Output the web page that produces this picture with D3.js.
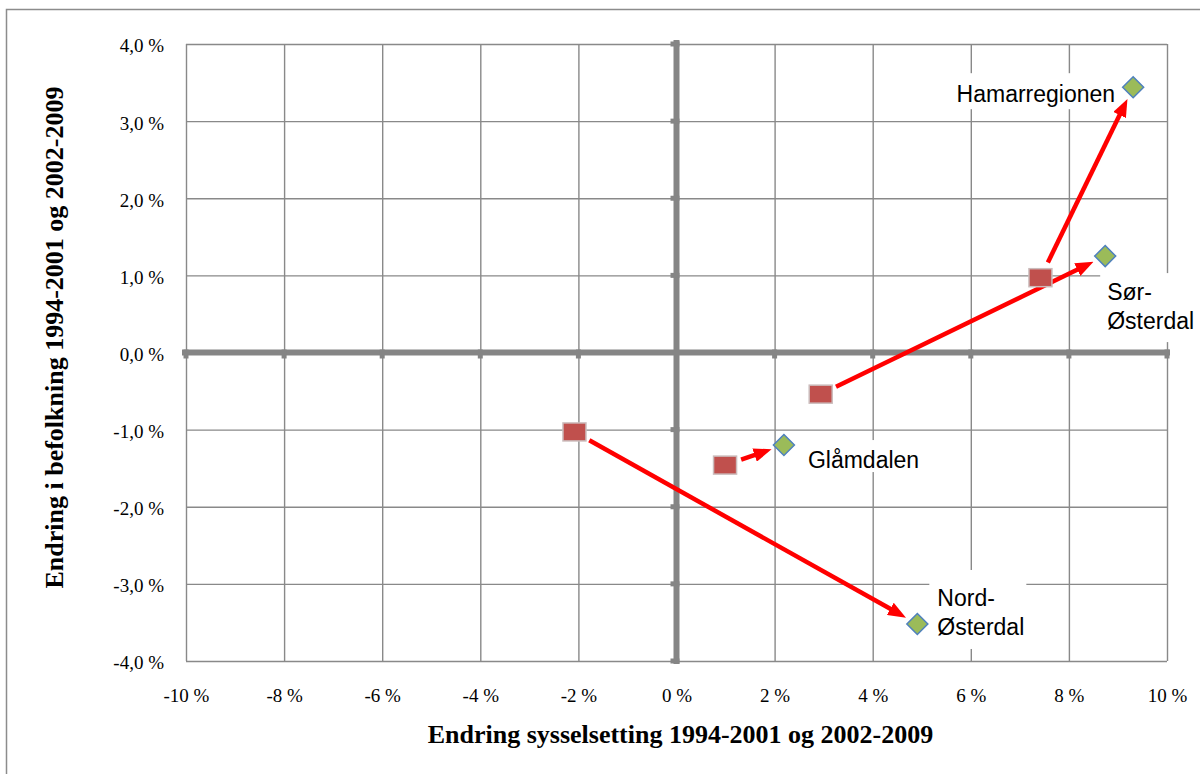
<!DOCTYPE html>
<html>
<head>
<meta charset="utf-8">
<script src="https://cdn.jsdelivr.net/npm/d3@7"></script>
<style>
  body { margin: 0; background: #fff; }
  svg { display: block; }
</style>
</head>
<body>
<div id="chart"></div>
<script>
// values (percent)
var regions = ["Hamarregionen", "Sør-Østerdal", "Glåmdalen", "Nord-Østerdal"];
var labelLines = [["Hamarregionen"], ["Sør-", "Østerdal"], ["Glåmdalen"], ["Nord-", "Østerdal"]];
var emp9401 = [7.42, 2.94, 0.99, -2.08];
var pop9401 = [0.97, -0.54, -1.46, -1.03];
var emp0209 = [9.31, 8.74, 2.19, 4.91];
var pop0209 = [3.44, 1.25, -1.20, -3.52];
var xTicks = [-10, -8, -6, -4, -2, 0, 2, 4, 6, 8, 10];
var yTicks = [-4, -3, -2, -1, 0, 1, 2, 3, 4];

// label placement relative to the 2002-2009 marker: text offset, anchor, white box
var labelPos = [
    {dx: -18, dy: 15, anchor: "end",   box: [-183, -14, 170, 36]},
    {dx: 2,   dy: 44, anchor: "start", box: [-5, 17, 80, 69]},
    {dx: 24,  dy: 23, anchor: "start", box: [16, -5, 125, 32]},
    {dx: 20,  dy: -18, anchor: "start", box: [12, -54, 97, 79]}
];

var W = 1200, H = 774;
var margin = {top: 44, right: 33, bottom: 113, left: 186};
var width = W - margin.left - margin.right;
var height = H - margin.top - margin.bottom;

var x = d3.scaleLinear().domain([-10, 10]).range([0, width]);
var y = d3.scaleLinear().domain([-4, 4]).range([height, 0]);

var fmtX = d => d + " %";
var fmtY = d => d.toFixed(1).replace(".", ",") + " %";

var root = d3.select("#chart").append("svg")
    .attr("width", W)
    .attr("height", H);

// outer chart frame (runs off the right/bottom edge)
root.append("rect")
    .attr("x", 6.5).attr("y", 9.5)
    .attr("width", 1400).attr("height", 1000)
    .attr("fill", "none")
    .attr("stroke", "#8c8c8c")
    .attr("stroke-width", 1.5);

var defs = root.append("defs");
defs.append("marker")
    .attr("id", "head")
    .attr("markerUnits", "userSpaceOnUse")
    .attr("markerWidth", 18).attr("markerHeight", 14)
    .attr("refX", 2).attr("refY", 7)
    .attr("orient", "auto")
    .append("path")
    .attr("d", "M0,0 L18,7 L0,14 Z")
    .attr("fill", "#ff0000");

var svg = root.append("g")
    .attr("transform", "translate(" + margin.left + "," + margin.top + ")");

var serif = "'Liberation Serif', 'Times New Roman', serif";
var sans = "'Liberation Sans', Arial, sans-serif";

// gridlines
svg.append("g")
    .attr("transform", "translate(0," + height + ")")
    .call(d3.axisBottom(x).tickValues(xTicks).tickSize(-height).tickFormat(""))
    .call(g => g.select(".domain").remove())
    .selectAll("line").attr("stroke", "#898989").attr("stroke-width", 1.4);

svg.append("g")
    .call(d3.axisLeft(y).tickValues(yTicks).tickSize(-width).tickFormat(""))
    .call(g => g.select(".domain").remove())
    .selectAll("line").attr("stroke", "#898989").attr("stroke-width", 1.4);

// tick labels
svg.append("g")
    .attr("transform", "translate(0," + height + ")")
    .call(d3.axisBottom(x).tickValues(xTicks).tickSize(0).tickPadding(28).tickFormat(fmtX))
    .call(g => g.select(".domain").remove())
    .selectAll("text")
    .attr("fill", "#000")
    .style("font-family", serif)
    .style("font-size", "19px");

svg.append("g")
    .call(d3.axisLeft(y).tickValues(yTicks).tickSize(0).tickPadding(22).tickFormat(fmtY))
    .call(g => g.select(".domain").remove())
    .selectAll("text")
    .attr("fill", "#000")
    .attr("dy", "0.42em")
    .style("font-family", serif)
    .style("font-size", "19px");

// white label boxes hiding gridlines
var pts = regions.map((r, i) => ({
    name: r, lines: labelLines[i], pos: labelPos[i],
    x0: emp9401[i], y0: pop9401[i], x1: emp0209[i], y1: pop0209[i]
}));

svg.selectAll(".lblbox")
    .data(pts)
    .enter().append("rect")
    .attr("class", "lblbox")
    .attr("x", d => x(d.x1) + d.pos.box[0])
    .attr("y", d => y(d.y1) + d.pos.box[1])
    .attr("width", d => d.pos.box[2])
    .attr("height", d => d.pos.box[3])
    .attr("fill", "#fff");

// thick zero axes with small ticks
var axisCol = "#858585";
svg.append("line")
    .attr("x1", -4).attr("x2", width + 3)
    .attr("y1", y(0)).attr("y2", y(0))
    .attr("stroke", axisCol).attr("stroke-width", 6);
svg.append("line")
    .attr("x1", x(0)).attr("x2", x(0))
    .attr("y1", -4).attr("y2", height + 3)
    .attr("stroke", axisCol).attr("stroke-width", 6);

svg.append("g").selectAll("rect")
    .data(xTicks)
    .enter().append("rect")
    .attr("x", d => x(d) - 2.5).attr("y", y(0) - 3)
    .attr("width", 5).attr("height", 9)
    .attr("fill", axisCol);
svg.append("g").selectAll("rect")
    .data(yTicks)
    .enter().append("rect")
    .attr("x", x(0) - 6).attr("y", d => y(d) - 2.5)
    .attr("width", 9).attr("height", 5)
    .attr("fill", axisCol);

// arrows from 1994-2001 to 2002-2009
svg.selectAll(".arrow")
    .data(pts)
    .enter().append("line")
    .attr("class", "arrow")
    .each(function(d) {
        var ax = x(d.x0), ay = y(d.y0), bx = x(d.x1), by = y(d.y1);
        var len = Math.hypot(bx - ax, by - ay);
        var ux = (bx - ax) / len, uy = (by - ay) / len;
        d3.select(this)
            .attr("x1", ax + ux * 17).attr("y1", ay + uy * 17)
            .attr("x2", bx - ux * 29).attr("y2", by - uy * 29);
    })
    .attr("stroke", "#ff0000")
    .attr("stroke-width", 4.5)
    .attr("marker-end", "url(#head)");

// 1994-2001 squares
svg.selectAll(".sq")
    .data(pts)
    .enter().append("rect")
    .attr("class", "sq")
    .attr("x", d => x(d.x0) - 11.5)
    .attr("y", d => y(d.y0) - 9)
    .attr("width", 23).attr("height", 18)
    .attr("fill", "#c0504d")
    .attr("stroke", "#cbbcbc")
    .attr("stroke-width", 1.5);

// 2002-2009 diamonds
svg.selectAll(".dia")
    .data(pts)
    .enter().append("path")
    .attr("class", "dia")
    .attr("transform", d => "translate(" + x(d.x1) + "," + y(d.y1) + ")")
    .attr("d", "M0,-10.5 L10.5,0 L0,10.5 L-10.5,0 Z")
    .attr("fill", "#9bbb59")
    .attr("stroke", "#4f81bd")
    .attr("stroke-width", 1.5);

// data labels
var lbl = svg.selectAll(".lbl")
    .data(pts)
    .enter().append("text")
    .attr("class", "lbl")
    .attr("x", d => x(d.x1) + d.pos.dx)
    .attr("y", d => y(d.y1) + d.pos.dy)
    .attr("text-anchor", d => d.pos.anchor)
    .style("font-family", sans)
    .style("font-size", "23px")
    .attr("fill", "#000");
lbl.selectAll("tspan")
    .data(d => d.lines.map(t => ({t: t, x: x(d.x1) + d.pos.dx})))
    .enter().append("tspan")
    .attr("x", t => t.x)
    .attr("dy", (t, i) => i === 0 ? 0 : 29)
    .text(t => t.t);

// axis titles
svg.append("text")
    .attr("x", width / 2 + 4)
    .attr("y", height + 82)
    .attr("text-anchor", "middle")
    .style("font-family", serif)
    .style("font-size", "26px")
    .style("font-weight", "bold")
    .text("Endring sysselsetting 1994-2001 og 2002-2009");

svg.append("text")
    .attr("transform", "translate(" + (-123) + "," + (height / 2 - 15) + ") rotate(-90)")
    .attr("text-anchor", "middle")
    .style("font-family", serif)
    .style("font-size", "26px")
    .style("font-weight", "bold")
    .text("Endring i befolkning 1994-2001 og 2002-2009");
</script>
</body>
</html>
